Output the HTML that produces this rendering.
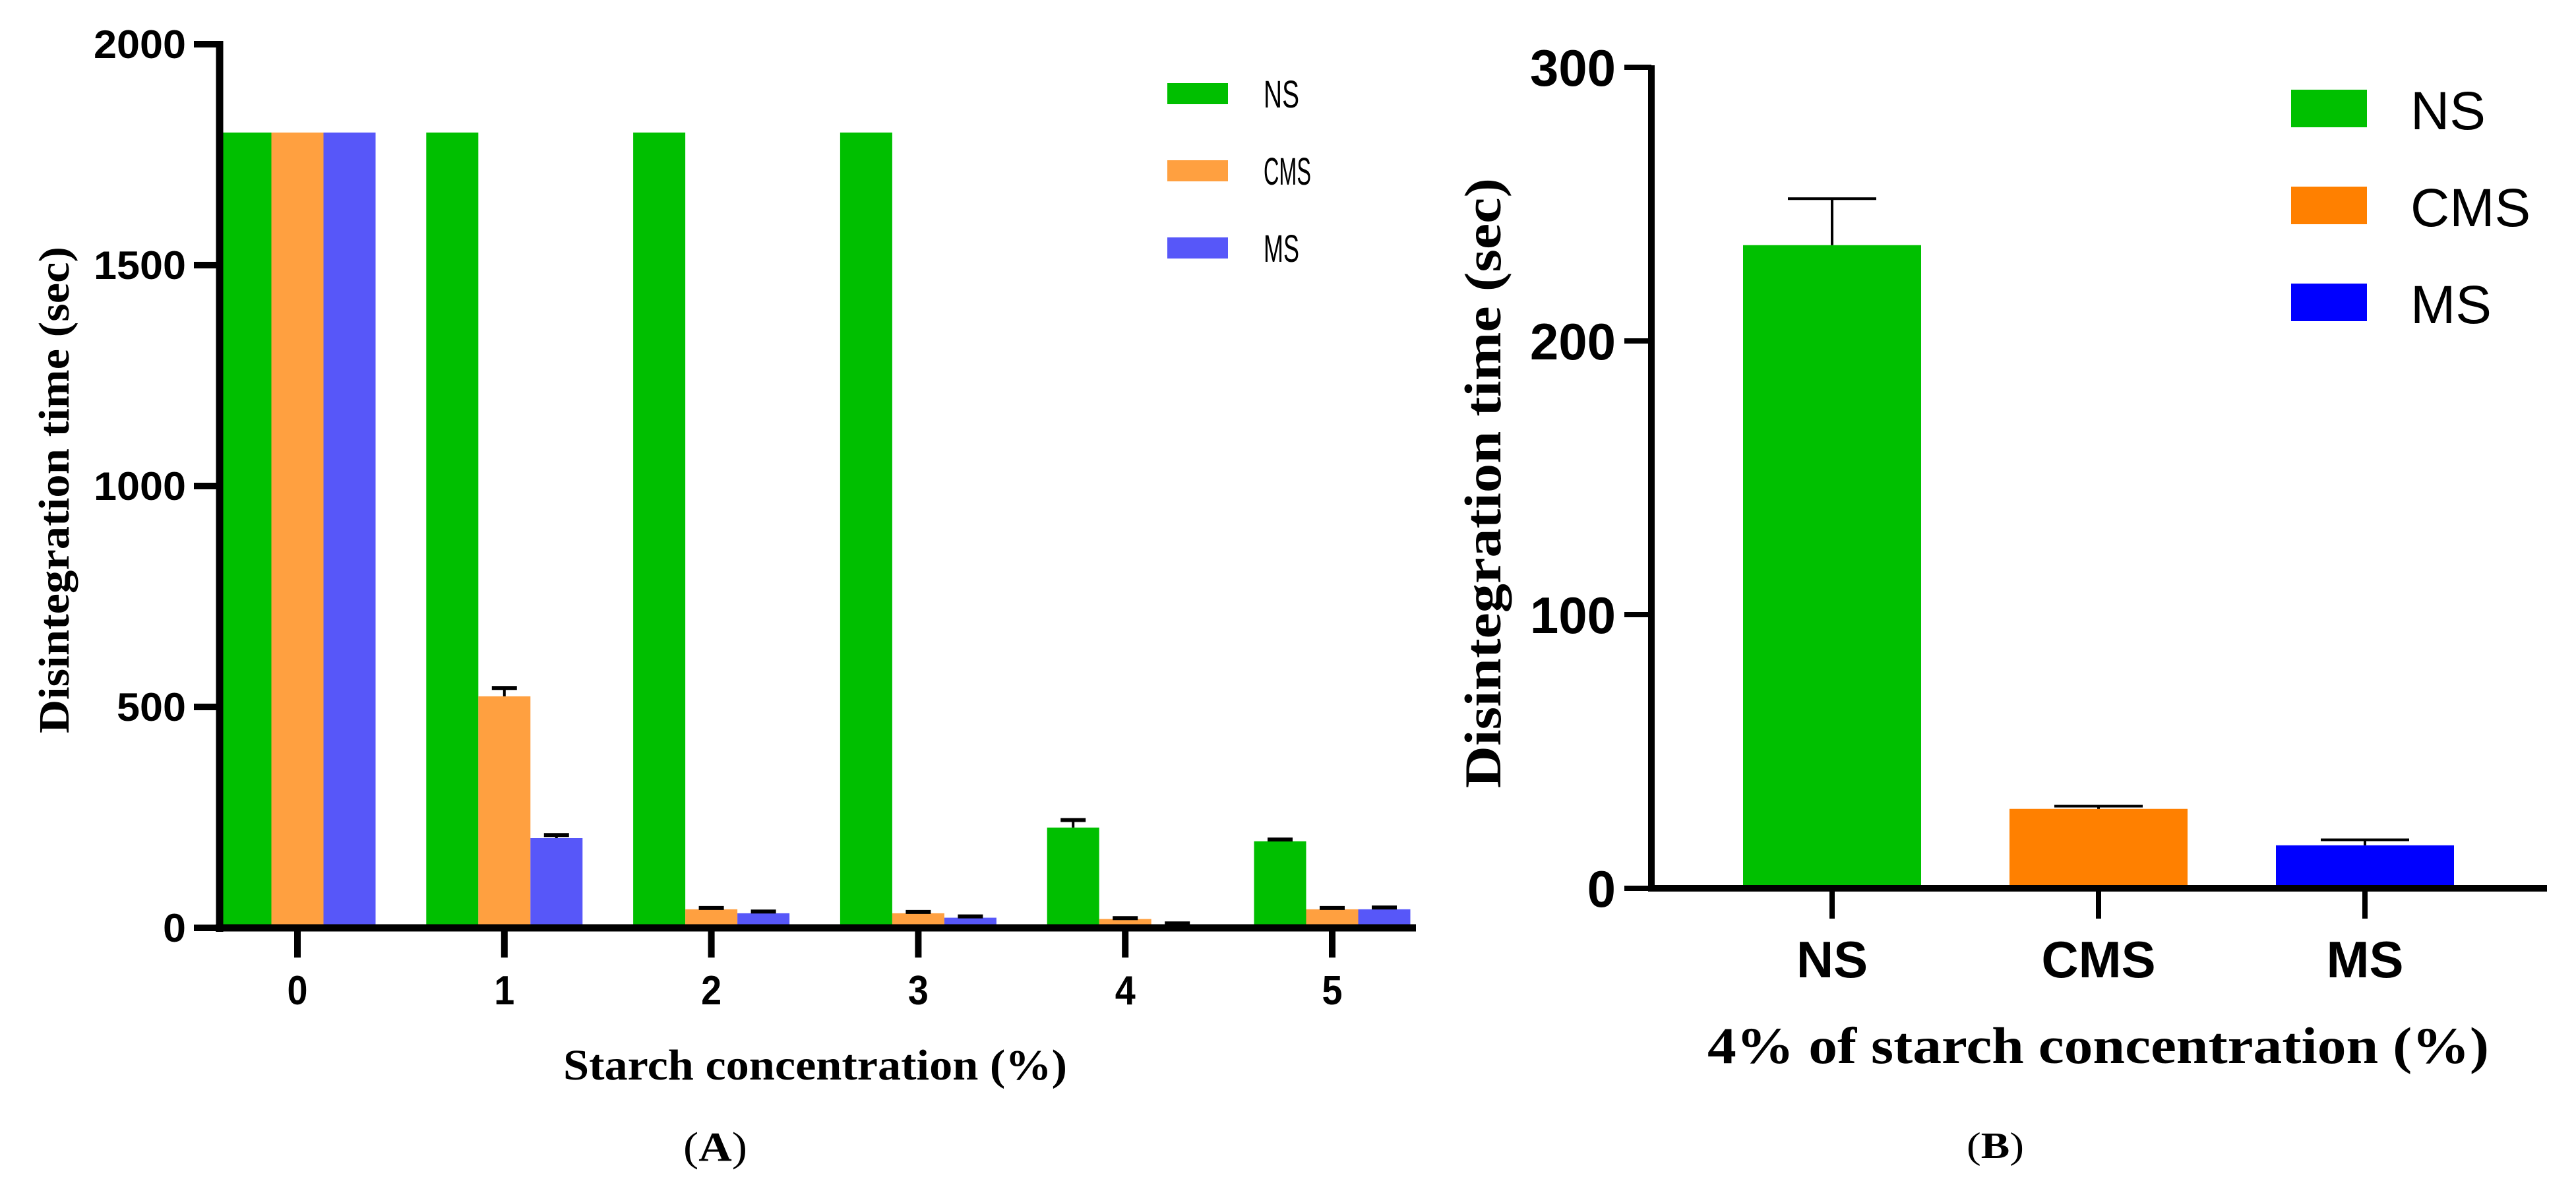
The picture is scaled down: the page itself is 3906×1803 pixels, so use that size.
<!DOCTYPE html>
<html><head><meta charset="utf-8"><style>
html,body{margin:0;padding:0;background:#fff;}
svg{display:block;}
</style></head><body>
<svg id="fig" width="3906" height="1803" viewBox="0 0 3906 1803" xmlns="http://www.w3.org/2000/svg">
<rect width="3906" height="1803" fill="#fff"/>
<g id="chartA"></g>
<g id="chartB"></g>
</svg>
<script>
// ---- Chart A data ----
const catsA = ["0","1","2","3","4","5"];
const seriesA = ["NS","CMS","MS"];
const nsA = [1800,1800,1800,1800,227,196];
const cmsA = [1800,524,42,33,20,42];
const msA = [1800,203,33,23,6,42];
const nsErrA = [0,0,0,0,17,4];
const cmsErrA = [0,19,3,3,2,3];
const msErrA = [0,7,4,3,4,4];
const ticksA = [0,500,1000,1500,2000];
// ---- Chart B data ----
const catsB = ["NS","CMS","MS"];
const valsB = [235,29,15.7];
const errB = [17,1,2];
const ticksB = [0,100,200,300];

const NS="http://www.w3.org/2000/svg";
function mk(parent, tag, attrs, text){
  const e=document.createElementNS(NS,tag);
  for(const k in attrs) e.setAttribute(k,attrs[k]);
  if(text!==undefined) e.textContent=text;
  parent.appendChild(e); return e;
}
const sansN='"Liberation Sans Narrow","Liberation Sans",sans-serif';
const sans='"Liberation Sans",sans-serif';
const serif='"Liberation Serif",serif';

// ===== Chart A =====
const A=document.getElementById('chartA');
const yA=v=>1407-v*0.67;
const xA=i=>451+313.8*i;
const colA=["#00BF00","#FFA040","#5757F9"];
const valsA=[nsA,cmsA,msA], errsA=[nsErrA,cmsErrA,msErrA];
const bw=79;
for(let s=0;s<3;s++){
  for(let i=0;i<catsA.length;i++){
    const x=xA(i)+(s-1)*bw-bw/2, v=valsA[s][i];
    const r=mk(A,'rect',{x:x,y:yA(v),width:bw,height:yA(0)-yA(v),fill:colA[s]});
    
    
    const e=errsA[s][i];
    if(e>0){
      const cx=x+bw/2;
      const g=mk(A,'g',{});
      
      
      mk(g,'line',{x1:cx,x2:cx,y1:yA(v),y2:yA(v+e),stroke:'#000','stroke-width':4});
      mk(g,'line',{x1:cx-19,x2:cx+19,y1:yA(v+e),y2:yA(v+e),stroke:'#000','stroke-width':6});
    }
  }
}
// axes A
let ax=mk(A,'line',{x1:333,x2:333,y1:62,y2:1413,stroke:'#000','stroke-width':11});

ax=mk(A,'line',{x1:327,x2:2147,y1:1407,y2:1407,stroke:'#000','stroke-width':11});

for(const t of ticksA){
  mk(A,'line',{x1:294,x2:333,y1:yA(t),y2:yA(t),stroke:'#000','stroke-width':10});
  const w=String(t).length*35;
  const tx=mk(A,'text',{x:282,y:yA(t)+21,'text-anchor':'end','font-family':sansN,'font-weight':'bold','font-size':60,textLength:w,lengthAdjust:'spacingAndGlyphs'},String(t));
  
}
for(let i=0;i<catsA.length;i++){
  mk(A,'line',{x1:xA(i),x2:xA(i),y1:1412,y2:1452,stroke:'#000','stroke-width':10});
  const tx=mk(A,'text',{x:xA(i),y:1523,'text-anchor':'middle','font-family':sansN,'font-weight':'bold','font-size':62,textLength:31,lengthAdjust:'spacingAndGlyphs'},catsA[i]);
  
}
let t=mk(A,'text',{x:854,y:1637,'font-family':serif,'font-weight':'bold','font-size':66,textLength:764,lengthAdjust:'spacingAndGlyphs'},'Starch concentration (%)');

t=mk(A,'text',{x:0,y:0,transform:'translate(104,1112) rotate(-90)','font-family':serif,'font-weight':'bold','font-size':66,textLength:738,lengthAdjust:'spacingAndGlyphs'},'Disintegration time (sec)');

t=mk(A,'text',{x:1036,y:1760,'font-family':serif,'font-size':62,textLength:97,lengthAdjust:'spacingAndGlyphs'},'');
mk(t,'tspan',{},'(');mk(t,'tspan',{'font-weight':'bold'},'A');mk(t,'tspan',{},')');

// legend A
const legYA=[126,243,360];
for(let s=0;s<3;s++){
  const g=mk(A,'g',{});
  
  
  mk(g,'rect',{x:1770,y:legYA[s],width:92,height:32,fill:colA[s]});
  mk(g,'text',{x:1916,y:legYA[s]+37,'font-family':sansN,'font-size':58,textLength:seriesA[s].length*(s==1?24:27),lengthAdjust:'spacingAndGlyphs'},seriesA[s]);
}

// ===== Chart B =====
const B=document.getElementById('chartB');
const yB=v=>1347-v*4.15;
const xB=i=>2778+404*i;
const colB=["#00C000","#FF8000","#0000FF"];
const bwB=270;
for(let i=0;i<catsB.length;i++){
  const v=valsB[i];
  const r=mk(B,'rect',{x:xB(i)-bwB/2,y:yB(v),width:bwB,height:yB(0)-yB(v),fill:colB[i]});
  
  
  const g=mk(B,'g',{});
  
  
  mk(g,'line',{x1:xB(i),x2:xB(i),y1:yB(v),y2:yB(v+errB[i]),stroke:'#000','stroke-width':4});
  mk(g,'line',{x1:xB(i)-67,x2:xB(i)+67,y1:yB(v+errB[i]),y2:yB(v+errB[i]),stroke:'#000','stroke-width':4});
}
ax=mk(B,'line',{x1:2504,x2:2504,y1:99,y2:1352,stroke:'#000','stroke-width':10});

ax=mk(B,'line',{x1:2499,x2:3862,y1:1347,y2:1347,stroke:'#000','stroke-width':10});

for(const tk of ticksB){
  mk(B,'line',{x1:2463,x2:2504,y1:yB(tk),y2:yB(tk),stroke:'#000','stroke-width':8});
  const tx=mk(B,'text',{x:2450,y:yB(tk)+28,'text-anchor':'end','font-family':sans,'font-weight':'bold','font-size':78},String(tk));
  
}
for(let i=0;i<catsB.length;i++){
  mk(B,'line',{x1:xB(i),x2:xB(i),y1:1350,y2:1393,stroke:'#000','stroke-width':8});
  const tx=mk(B,'text',{x:xB(i),y:1482,'text-anchor':'middle','font-family':sans,'font-weight':'bold','font-size':78},catsB[i]);
  
}
t=mk(B,'text',{x:2589,y:1612,'font-family':serif,'font-weight':'bold','font-size':78,textLength:1185,lengthAdjust:'spacingAndGlyphs'},'4% of starch concentration (%)');

t=mk(B,'text',{x:0,y:0,transform:'translate(2275,1195) rotate(-90)','font-family':serif,'font-weight':'bold','font-size':78,textLength:925,lengthAdjust:'spacingAndGlyphs'},'Disintegration time (sec)');

t=mk(B,'text',{x:2982,y:1756,'font-family':serif,'font-size':56,textLength:87,lengthAdjust:'spacingAndGlyphs'},'');
mk(t,'tspan',{},'(');mk(t,'tspan',{'font-weight':'bold'},'B');mk(t,'tspan',{},')');

const legYB=[136,283,430];
for(let s=0;s<3;s++){
  const g=mk(B,'g',{});
  
  
  mk(g,'rect',{x:3474,y:legYB[s],width:115,height:57,fill:colB[s]});
  mk(g,'text',{x:3655,y:legYB[s]+60,'font-family':sans,'font-size':82},catsB[s]);
}
</script>
</body></html>
